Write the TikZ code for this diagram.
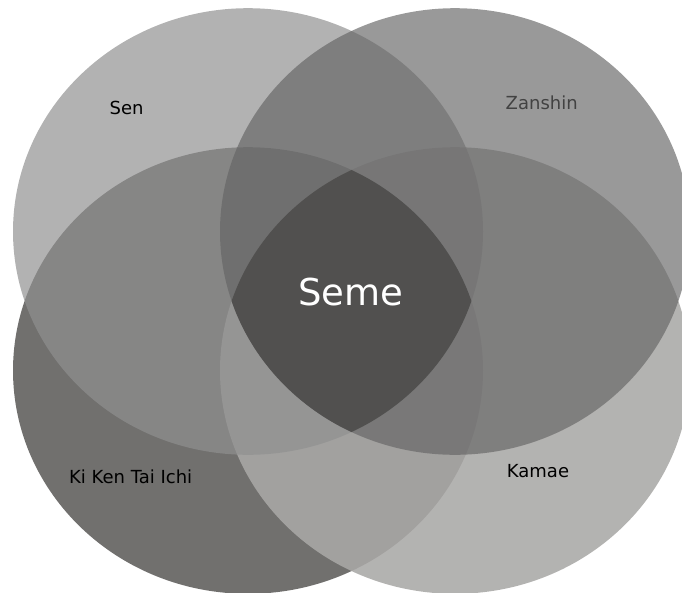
\documentclass[tikz,border=0pt]{standalone}
\usepackage{fontspec}
\setmainfont{DejaVu Sans}
\definecolor{kikenfill}{RGB}{113,112,110}
\definecolor{kamaefill}{RGB}{169,168,166}
\definecolor{senfill}{RGB}{144,144,144}
\definecolor{zanshinfill}{RGB}{100,100,100}
\definecolor{semefill}{RGB}{81,80,79}
\definecolor{zanshintext}{RGB}{66,66,66}
\newcommand{\ellrx}{235}
\newcommand{\ellry}{223.3}
\begin{document}
\begin{tikzpicture}[x=1pt,y=-1pt,
  petal/.style={x radius=\ellrx, y radius=\ellry},
  lbl/.style={inner sep=0pt, anchor=base, font=\fontsize{18}{21}\selectfont},
  centrelbl/.style={inner sep=0pt, anchor=base, text=white, font=\fontsize{37}{42}\selectfont}]
\useasboundingbox (0,0) rectangle (682,592);
\clip (0,0) rectangle (682,592);

% centres of the four ellipses
\coordinate (cS) at (248,231.5);
\coordinate (cZ) at (455,231.5);
\coordinate (cK) at (248,370.5);
\coordinate (cM) at (455,370.5);

% layered translucent ellipses
\fill[kikenfill] (cK) ellipse [petal];
\fill[kamaefill, fill opacity=0.88] (cM) ellipse [petal];
\fill[senfill, fill opacity=0.69] (cS) ellipse [petal];
\fill[zanshinfill, fill opacity=0.66] (cZ) ellipse [petal];

% common intersection of all four
\begin{scope}
  \clip (cK) ellipse [petal];
  \clip (cM) ellipse [petal];
  \clip (cS) ellipse [petal];
  \fill[semefill] (cZ) ellipse [petal];
\end{scope}

% labels
\node[lbl] (sen) at (126.7,114) {Sen};
\node[lbl, text=zanshintext] (zanshin) at (541.7,109.3) {Zanshin};
\node[lbl] (kiken) at (130.7,483.3) {Ki Ken Tai Ichi};
\node[lbl] (kamae) at (538,477.7) {Kamae};
\node[centrelbl] (seme) at (351,305) {Seme};
\end{tikzpicture}
\end{document}
